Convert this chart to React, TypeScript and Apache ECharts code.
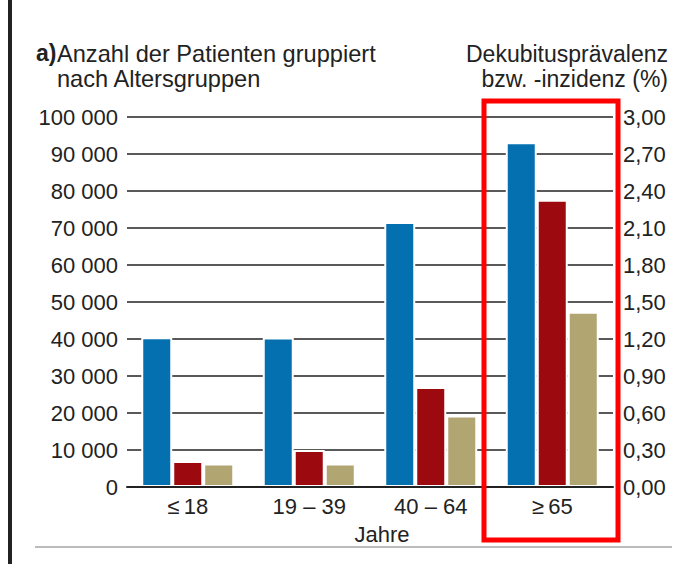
import React, { useEffect, useRef } from "react";
import * as echarts from "echarts";

const categories = ["≤\u200918", "19 – 39", "40 – 64", "≥\u200965"];
const patients = [40500, 40400, 71600, 93200];
const prevalence = [0.21, 0.3, 0.81, 2.33];
const incidence = [0.19, 0.19, 0.58, 1.42];
const leftAxis = { min: 0, max: 100000, interval: 10000 };
const rightAxis = { min: 0, max: 3, interval: 0.3 };

const FONT = "Liberation Sans";
const TXT = "#222";

export default function App() {
  const ref = useRef<HTMLDivElement>(null);
  useEffect(() => {
    if (!ref.current) return;
    const chart = echarts.init(ref.current, null, { renderer: "svg" });
    const barStyle = (color: string) => ({ color, borderColor: "#fff", borderWidth: 2 });
    chart.setOption({
      animation: false,
      backgroundColor: "#fff",
      textStyle: { fontFamily: FONT },
      grid: { left: 127, right: 87, top: 117, bottom: 77, containLabel: false },
      xAxis: {
        type: "category",
        data: categories,
        z: 10,
        axisLine: { lineStyle: { color: TXT, width: 2 } },
        axisTick: { show: false },
        axisLabel: { fontSize: 22, color: TXT, fontFamily: FONT, margin: 8 },
        name: "Jahre",
        nameLocation: "middle",
        nameGap: 36,
        nameTextStyle: { fontSize: 22, color: TXT, fontFamily: FONT, padding: [0, 0, 0, 24] },
      },
      yAxis: [
        {
          type: "value",
          ...leftAxis,
          axisLine: { show: false },
          axisTick: { show: false },
          splitLine: { show: true, lineStyle: { color: TXT, width: 1.5 } },
          axisLabel: {
            fontSize: 22,
            color: TXT,
            fontFamily: FONT,
            margin: 9,
            formatter: (v: number) => String(v).replace(/\B(?=(\d{3})+(?!\d))/g, " "),
          },
        },
        {
          type: "value",
          ...rightAxis,
          axisLine: { show: false },
          axisTick: { show: false },
          splitLine: { show: false },
          axisLabel: {
            fontSize: 22,
            color: TXT,
            fontFamily: FONT,
            margin: 10,
            formatter: (v: number) => v.toFixed(2).replace(".", ","),
          },
        },
      ],
      series: [
        { type: "bar", name: "Patienten", data: patients, yAxisIndex: 0, barWidth: 31, barGap: "0%", itemStyle: barStyle("#0570b0") },
        { type: "bar", name: "Prävalenz", data: prevalence, yAxisIndex: 1, barWidth: 31, barGap: "0%", itemStyle: barStyle("#9c0a10") },
        { type: "bar", name: "Inzidenz", data: incidence, yAxisIndex: 1, barWidth: 31, barGap: "0%", itemStyle: barStyle("#b1a571") },
      ],
      graphic: [
        { type: "rect", shape: { x: 8, y: 0, width: 4, height: 564 }, style: { fill: "#222" } },
        { type: "line", shape: { x1: 35, y1: 547, x2: 672, y2: 547 }, style: { stroke: "#bbb", lineWidth: 2 } },
        {
          type: "rect",
          shape: { x: 484, y: 101, width: 134, height: 439 },
          style: { fill: "none", stroke: "#ff0000", lineWidth: 5 },
          z: 100,
        },
        {
          type: "text",
          x: 36,
          y: 41,
          style: { text: "a)", font: `bold 23px "${FONT}"`, fill: TXT },
        },
        {
          type: "text",
          x: 57,
          y: 41,
          style: { text: "Anzahl der Patienten gruppiert\nnach Altersgruppen", font: `23.6px "${FONT}"`, fill: TXT, lineHeight: 25 },
        },
        {
          type: "text",
          x: 668,
          y: 41,
          style: { text: "Dekubitusprävalenz\nbzw. -inzidenz (%)", font: `23px "${FONT}"`, fill: TXT, align: "right", lineHeight: 25 },
        },
      ],
    });
    return () => chart.dispose();
  }, []);
  return <div ref={ref} style={{ position: "fixed", left: 0, top: 0, width: 700, height: 564 }} />;
}
